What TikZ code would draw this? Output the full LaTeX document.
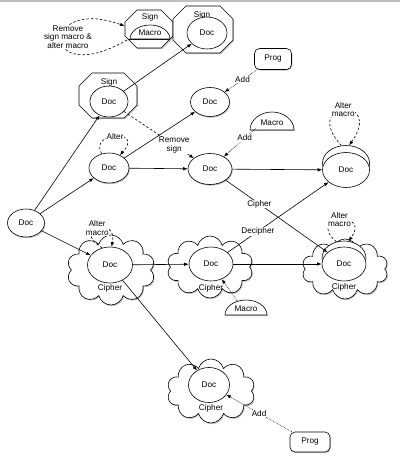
\documentclass[tikz,border=0pt]{standalone}
\usepackage{fontspec}
\setmainfont{Liberation Sans}
\usetikzlibrary{shapes.geometric,shapes.symbols,arrows.meta,shadows}
\newcommand\octshape[5]{%
  \draw[octline] ({#1-#3/2+#5},{#2-#4/2}) -- ({#1+#3/2-#5},{#2-#4/2}) -- ({#1+#3/2},{#2-#4/2+#5}) -- ({#1+#3/2},{#2+#4/2-#5}) -- ({#1+#3/2-#5},{#2+#4/2}) -- ({#1-#3/2+#5},{#2+#4/2}) -- ({#1-#3/2},{#2+#4/2-#5}) -- ({#1-#3/2},{#2-#4/2+#5}) -- cycle;}
\begin{document}
\begin{tikzpicture}[x=1pt,y=-1pt,
  font=\fontsize{8.2}{8.4}\selectfont,
  line width=0.6pt,
  shd/.style={drop shadow={shadow xshift=0.8pt,shadow yshift=-1.2pt,opacity=0.25,fill=black}},
  octline/.style={draw,fill=white,shd},
  docnode/.style={ellipse,draw,fill=white,inner sep=0pt},
  cloudnode/.style={cloud,draw,fill=white,cloud puffs=10,cloud puff arc=150,inner sep=0pt,shd},
  prognode/.style={rectangle,rounded corners=5pt,draw,fill=white,minimum width=37pt,minimum height=21pt,inner sep=0pt,shd},
  lbl/.style={fill=white,inner sep=0.6pt,align=center},
  plain/.style={inner sep=0pt,align=center},
  arr/.style={-{Latex[length=4.5pt,width=3.5pt]}},
  dotarr/.style={arr,densely dotted},
  dasharr/.style={arr,dash pattern=on 2.5pt off 2pt},
]
\useasboundingbox (0,0) rectangle (400,461);
\fill[black!25] (0,0) rectangle (400,1.5);

% ---- octagons ----
\octshape{149}{29}{48}{38}{12}
\octshape{203}{29.5}{60}{47}{13}
\octshape{108}{95.5}{58}{45}{13}
% macro half disc in top-left octagon
\draw (128,39) -- (170,39);
\draw[fill=white] (130,39) .. controls (130,31.3) and (138.95,25) .. (150,25) .. controls (161.05,25) and (170,31.3) .. (170,39) -- cycle;
\node[plain] (sign0) at (150,17.5) {Sign};
\node[plain] (macro0) at (150,33) {Macro};
\coordinate (o0a) at (127,40);
\coordinate (o0b) at (124.5,26);
\node[plain] (sign1) at (202,15) {Sign};
\node[docnode,minimum width=40pt,minimum height=32pt] (docS1) at (207,33) {Doc};
\node[plain] (sign2) at (109,82) {Sign};
\node[docnode,minimum width=38pt,minimum height=31pt] (docS2) at (109,101.5) {Doc};

% ---- plain docs ----
\node[docnode,shd,minimum width=37pt,minimum height=28pt] (docL) at (26,223) {Doc};
\node[docnode,shd,minimum width=40pt,minimum height=30pt] (docA) at (109,168) {Doc};
\node[docnode,shd,minimum width=39pt,minimum height=29pt] (docT) at (210,102) {Doc};
\node[docnode,shd,minimum width=44pt,minimum height=31pt] (docC) at (210,169) {Doc};
\node[docnode,shd,minimum width=47pt,minimum height=35pt] (docRb) at (346,163) {};
\node[docnode,minimum width=47pt,minimum height=35pt] (docR) at (346,170) {Doc};

% ---- progs and macros ----
\node[prognode] (progT) at (273,59) {Prog};
\node[prognode,minimum width=40pt,minimum height=20pt] (progB) at (310,442) {Prog};
\draw[fill=white,shd] (250,130) .. controls (250,120.1) and (259.85,112) .. (272,112) .. controls (284.15,112) and (294,120.1) .. (294,130) -- cycle;
\node[plain] (macroT) at (272,123) {Macro};
\coordinate (mT) at (256,128);
\draw[fill=white,shd] (225,315) .. controls (225,306.7) and (234.4,300) .. (246,300) .. controls (257.6,300) and (267,306.7) .. (267,315) -- cycle;
\node[plain] (macroB) at (246,309) {Macro};
\coordinate (mB) at (238,302);

% ---- clouds ----
\node[cloudnode,minimum width=88pt,minimum height=70pt] (cl1) at (111,270) {};
\node[docnode,minimum width=45pt,minimum height=36pt] (docC1) at (110,265) {Doc};
\node[plain] (ci1) at (110,288) {Cipher};
\node[cloudnode,minimum width=86pt,minimum height=62pt] (cl2) at (210,267) {};
\node[docnode,minimum width=44pt,minimum height=34pt] (docC2) at (211,264) {Doc};
\node[plain] (ci2) at (211,288) {Cipher};
\node[cloudnode,minimum width=86pt,minimum height=60pt] (cl4) at (345,269) {};
\node[docnode,minimum width=44pt,minimum height=34pt] (docC4b) at (344,258) {};
\node[docnode,minimum width=44pt,minimum height=34pt] (docC4) at (344,264) {Doc};
\node[plain] (ci4) at (344,287) {Cipher};
\node[cloudnode,minimum width=88pt,minimum height=64pt] (cl3) at (211,391) {};
\node[docnode,minimum width=41pt,minimum height=35pt] (docC3) at (209,385) {Doc};
\node[plain] (ci3) at (211,408) {Cipher};

% ---- connectors ----
\draw[arr] (docL) -- (docS2);
\draw[arr] (docL) -- (docA);
\draw[arr] (docL) -- (docC1);
\draw[arr] (docS2) -- (docS1);
\draw[dasharr] (docS2) -- node[lbl,pos=0.72]{Remove\\sign} (docC);
\draw[arr] (docA) -- (docT);
\draw[arr] (docA) -- (docC);
\draw[dasharr] (docA.117) .. controls (88,132) and (145,128) .. node[lbl,pos=0.5]{Alter} (docA.50);
\draw[dotarr] (progT) -- node[lbl,pos=0.45]{Add} (docT);
\draw[dotarr] (mT) -- node[lbl,pos=0.35]{Add} (docC);
\draw[arr] (docC) -- (docR);
\draw[arr] (docC) -- node[lbl,pos=0.33]{Cipher} (docC4);
\draw[arr] (docC2) -- node[lbl,pos=0.3]{Decipher} (docR);
\draw[dasharr] (docRb.105) .. controls (300,100) and (385,95) .. node[lbl,pos=0.5]{Alter\\macro} (docRb.80);
\draw[dasharr] (docC1.115) .. controls (70,228) and (118,215) .. node[lbl,pos=0.5]{Alter\\macro} (docC1.85);
\draw[dasharr] (docC4b.115) .. controls (305,215) and (372,210) .. node[lbl,pos=0.5]{Alter\\macro} (docC4b.75);
\draw[arr] (docC1) -- (docC2);
\draw[arr] (docC1) -- (docC3);
\draw[arr] (docC2) -- (docC4);
\draw[dotarr] (mB) -- (docC2);
\draw[dotarr] (progB) -- node[lbl,pos=0.5]{Add} (docC3);
\draw[dasharr] (o0a) .. controls (40,90) and (40,-5) .. (o0b);
\node[lbl] (rmlbl) at (68,37) {Remove\\sign macro \&\\alter macro};
\end{tikzpicture}
\end{document}
